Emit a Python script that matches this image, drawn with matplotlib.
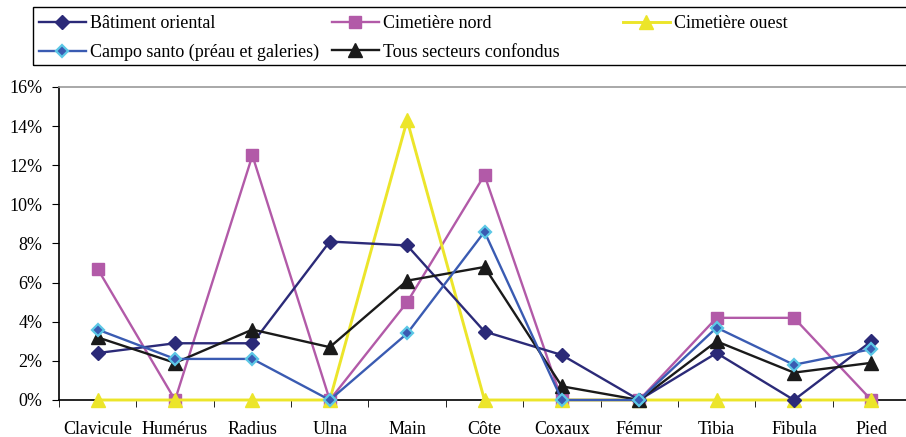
import matplotlib.pyplot as plt
from matplotlib.patches import Rectangle
from matplotlib.ticker import FuncFormatter, FixedLocator

categories = ['Clavicule', 'Humérus', 'Radius', 'Ulna', 'Main', 'Côte',
              'Coxaux', 'Fémur', 'Tibia', 'Fibula', 'Pied']

batiment = [2.4, 2.9, 2.9, 8.1, 7.9, 3.5, 2.3, 0.0, 2.4, 0.0, 3.0]
cim_nord = [6.7, 0.0, 12.5, 0.0, 5.0, 11.5, 0.0, 0.0, 4.2, 4.2, 0.0]
cim_ouest = [0.0, 0.0, 0.0, 0.0, 14.3, 0.0, 0.0, 0.0, 0.0, 0.0, 0.0]
campo = [3.6, 2.1, 2.1, 0.0, 3.4, 8.6, 0.0, 0.0, 3.7, 1.8, 2.6]
tous = [3.2, 1.9, 3.6, 2.7, 6.1, 6.8, 0.7, 0.0, 3.0, 1.4, 1.9]

plt.rcParams['font.family'] = ['Liberation Serif', 'DejaVu Serif']
plt.rcParams['font.size'] = 13

W, H = 906, 437
fig = plt.figure(figsize=(W / 100, H / 100), dpi=100)
ax = fig.add_axes([59 / W, 37 / H, 851 / W, 313 / H])

x = list(range(len(categories)))
lw = 1.7
l_bat, = ax.plot(x, batiment, color='#2B2A78', lw=lw, marker='D', ms=7,
                 label='Bâtiment oriental', zorder=4, clip_on=False)
l_nord, = ax.plot(x, cim_nord, color='#B25AA8', lw=lw, marker='s', ms=9,
                  label='Cimetière nord', zorder=3, clip_on=False)
l_ouest, = ax.plot(x, cim_ouest, color='#ECE52A', lw=lw + 0.4, marker='^', ms=10,
                   label='Cimetière ouest', zorder=3, clip_on=False)
l_campo, = ax.plot(x, campo, color='#3A5BB2', lw=lw, marker='D', ms=6.5,
                   mfc='#3A5BB2', mec='#5CC8E6', mew=1.6,
                   label='Campo santo (préau et galeries)', zorder=5, clip_on=False)
l_tous, = ax.plot(x, tous, color='#1A1A1A', lw=lw, marker='^', ms=10,
                  label='Tous secteurs confondus', zorder=4, clip_on=False)

ax.set_xlim(-0.5, len(categories) - 0.5)
ax.set_ylim(0, 16)
ax.set_yticks(range(0, 17, 2))
ax.yaxis.set_major_formatter(FuncFormatter(lambda v, p: f'{int(v)}%'))
ax.set_xticks(x)
ax.set_xticklabels(categories)
ax.xaxis.set_minor_locator(FixedLocator([i - 0.5 for i in range(len(categories) + 1)]))
ax.tick_params(axis='x', which='major', length=0, pad=15)
ax.tick_params(axis='x', which='minor', length=5, direction='out', color='black')
ax.tick_params(axis='y', length=5, direction='out', pad=7)

ax.spines['right'].set_visible(False)
ax.spines['top'].set_color('#999999')
ax.spines['left'].set_color('black')
ax.spines['bottom'].set_color('black')
for s in ax.spines.values():
    s.set_linewidth(1.2)

# legend: three columns of equal width, like the spreadsheet one
columns = [([l_bat, l_campo], 39), ([l_nord, l_tous], 332), ([l_ouest], 623)]
for hs, x0 in columns:
    leg = fig.legend(handles=hs, labels=[h.get_label() for h in hs],
                     loc='upper left', bbox_to_anchor=(x0 / W, 1 - 15 / H),
                     frameon=False, handlelength=2.6, handletextpad=0.25,
                     labelspacing=0.65, borderpad=0, borderaxespad=0, fontsize=13)
fig.patches.append(Rectangle((33 / W, 1 - 65 / H), 1.0, 58 / H, transform=fig.transFigure,
                             fill=False, edgecolor='black', lw=1.0))

fig.savefig('out.png', dpi=100)
